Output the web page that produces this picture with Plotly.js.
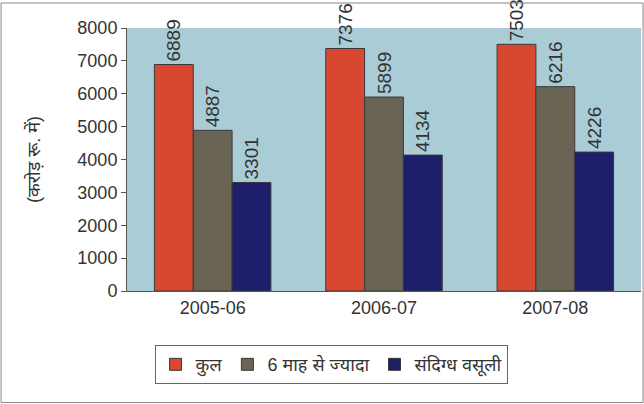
<!DOCTYPE html>
<html><head><meta charset="utf-8">
<script src="https://cdn.plot.ly/plotly-3.0.1.min.js"></script>
<style>body{margin:0;background:#fff}#chart{width:644px;height:404px}</style>
</head><body><div id="chart"></div>
<script>
var categories = ['2005-06', '2006-07', '2007-08'];
var seriesNames = ['कुल', '6 माह से ज्यादा', 'संदिग्ध वसूली'];
var kul = [6889, 7376, 7503];
var sixMonths = [4887, 5899, 6216];
var doubtful = [3301, 4134, 4226];
var yTicks = [0, 1000, 2000, 3000, 4000, 5000, 6000, 7000, 8000];
var colors = ['#d8472f', '#6a6455', '#1d1f6a'];
var values = [kul, sixMonths, doubtful];

var traces = values.map(function (v, i) {
  return {
    type: 'bar', x: categories, y: v, name: seriesNames[i],
    marker: {color: colors[i], line: {color: '#3a3a3a', width: 1}},
    text: v.map(String), textposition: 'outside', textangle: -90, constraintext: 'none',
    textfont: {family: 'Liberation Sans, Arial', size: 19, color: '#333'},
    cliponaxis: false
  };
});

var layout = {
  width: 644, height: 404,
  margin: {l: 127, r: 3, t: 28, b: 113},
  paper_bgcolor: '#ffffff', plot_bgcolor: '#a9ccd6',
  barmode: 'group', bargap: 0.32, bargroupgap: 0,
  font: {family: 'Liberation Sans, Arial, Noto Sans', color: '#333'},
  xaxis: {type: 'category', showline: true, linecolor: '#555', linewidth: 1, ticks: '', tickfont: {size: 18, color: '#333'}},
  yaxis: {range: [0, 8000], tickvals: yTicks, showgrid: false, showline: true, linecolor: '#555', linewidth: 1,
          ticks: 'outside', ticklen: 5, tickcolor: '#555', tickfont: {size: 18, color: '#333'},
          title: {text: '(करोड़ रू. में)', font: {size: 18, color: '#333'}, standoff: 32}},
  showlegend: true,
  legend: {orientation: 'h', x: 0.397, xanchor: 'center', y: -0.28, yanchor: 'middle',
           bordercolor: '#666', borderwidth: 1, font: {size: 18, color: '#333'}, itemwidth: 30, traceorder: 'normal'},
  shapes: [{type: 'rect', xref: 'paper', yref: 'paper', x0: -0.245, x1: 1.004, y0: -0.424, y1: 1.095,
            line: {color: '#888', width: 1}}]
};
Plotly.newPlot('chart', traces, layout, {displayModeBar: false});
</script></body></html>
